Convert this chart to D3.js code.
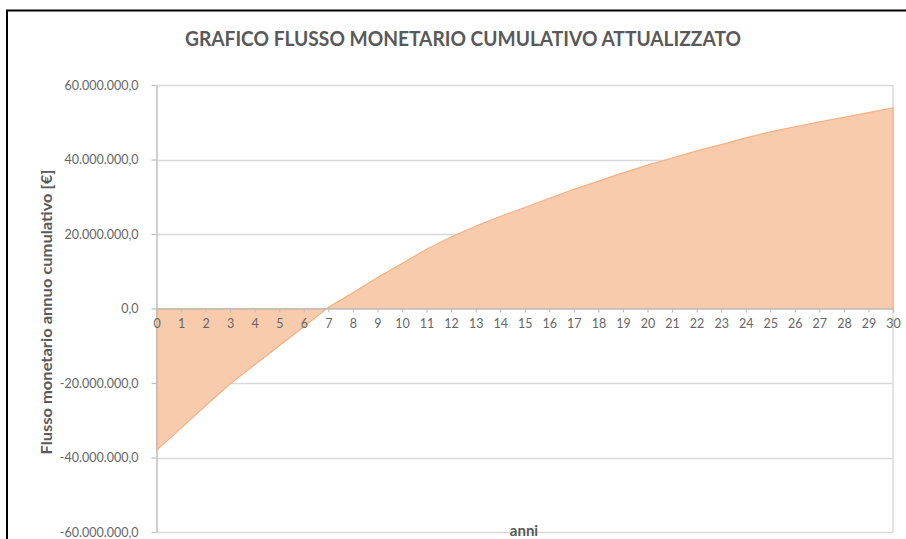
<!DOCTYPE html>
<html>
<head>
<meta charset="utf-8">
<script src="https://cdn.jsdelivr.net/npm/d3@7"></script>
<style>
    html, body { margin: 0; padding: 0; background: #fff; }
    svg { display: block; }
    text { font-family: Lato, "Open Sans", sans-serif; }
</style>
</head>
<body>
<div id="chart"></div>
<script>
// anni 0..30 e flusso cumulativo attualizzato (euro)
const anni = d3.range(0, 31);
const flussoCumulativo = [
    -38.1e6, -32.1e6, -26.1e6, -20.2e6, -15.1e6, -10.0e6, -4.9e6, 0.3e6,
    4.2e6, 8.3e6, 12.1e6, 15.9e6, 19.2e6, 22.1e6, 24.7e6, 27.1e6,
    29.6e6, 32.0e6, 34.2e6, 36.4e6, 38.5e6, 40.4e6, 42.3e6, 44.0e6,
    45.8e6, 47.4e6, 48.8e6, 50.1e6, 51.3e6, 52.6e6, 53.9e6
];
const yTicks = [-60e6, -40e6, -20e6, 0, 20e6, 40e6, 60e6];

const titolo = "GRAFICO FLUSSO MONETARIO CUMULATIVO ATTUALIZZATO";
const titoloY = "Flusso monetario annuo cumulativo [€]";
const titoloX = "anni";

const width = 906, height = 539;
const margin = {top: 85, right: 13, bottom: 7, left: 156.5};

const itLocale = d3.formatLocale({
    decimal: ",", thousands: ".", grouping: [3], currency: ["€", ""], minus: "-"
});
const fmt = itLocale.format(",.1f");

const svg = d3.select("#chart").append("svg")
    .attr("width", width)
    .attr("height", height);

// cornice esterna del grafico
svg.append("rect")
    .attr("x", 7)
    .attr("y", 10.5)
    .attr("width", width + 20)
    .attr("height", height + 20)
    .attr("fill", "none")
    .attr("stroke", "#000")
    .attr("stroke-width", 2);

const x = d3.scaleLinear()
    .domain([0, 30])
    .range([margin.left, width - margin.right]);

const y = d3.scaleLinear()
    .domain([-60e6, 60e6])
    .range([height - margin.bottom, margin.top]);

// griglia orizzontale
svg.append("g")
    .selectAll("line")
    .data(yTicks.filter(d => d !== 0))
    .enter().append("line")
    .attr("x1", x(0))
    .attr("x2", x(30))
    .attr("y1", d => Math.round(y(d)) + 0.5)
    .attr("y2", d => Math.round(y(d)) + 0.5)
    .attr("stroke", "#d9d9d9")
    .attr("stroke-width", 1.5);

// bordo destro dell'area del tracciato
svg.append("line")
    .attr("x1", x(30))
    .attr("x2", x(30))
    .attr("y1", y(60e6))
    .attr("y2", y(-60e6))
    .attr("stroke", "#d9d9d9")
    .attr("stroke-width", 1.5);

// area
const area = d3.area()
    .x((d, i) => x(anni[i]))
    .y0(y(0))
    .y1(d => y(d));

svg.append("path")
    .datum(flussoCumulativo)
    .attr("d", area)
    .attr("fill", "#f8cbad")
    .attr("stroke", "#f4b183")
    .attr("stroke-width", 1.2)
    .attr("stroke-linejoin", "round");

// asse y
const yAxis = d3.axisLeft(y)
    .tickValues(yTicks)
    .tickFormat(fmt)
    .tickSizeInner(5)
    .tickSizeOuter(0)
    .tickPadding(13);

const gy = svg.append("g")
    .attr("transform", `translate(${x(0)},0)`)
    .call(yAxis);

gy.select(".domain").attr("stroke", "#bfbfbf").attr("stroke-width", 1.5);
gy.selectAll(".tick line").attr("stroke", "#bfbfbf").attr("stroke-width", 1.2);
gy.selectAll(".tick text")
    .attr("fill", "#666")
    .style("font-size", "12.5px");

// asse x (sulla linea dello zero)
const xAxis = d3.axisBottom(x)
    .tickValues(anni)
    .tickFormat(d3.format("d"))
    .tickSizeInner(4)
    .tickSizeOuter(0)
    .tickPadding(7);

const gx = svg.append("g")
    .attr("transform", `translate(0,${y(0)})`)
    .call(xAxis);

gx.select(".domain").attr("stroke", "#bfbfbf").attr("stroke-width", 1.5);
gx.selectAll(".tick line").attr("stroke", "#bfbfbf").attr("stroke-width", 1.2);
gx.selectAll(".tick text")
    .attr("fill", "#666")
    .style("font-size", "12.5px");

// titoli
svg.append("text")
    .attr("x", 463)
    .attr("y", 46)
    .attr("text-anchor", "middle")
    .attr("fill", "#595959")
    .style("font-size", "20px")
    .style("font-weight", "bold")
    .attr("textLength", 556)
    .attr("lengthAdjust", "spacingAndGlyphs")
    .text(titolo);

svg.append("text")
    .attr("transform", "translate(52,312) rotate(-90)")
    .attr("text-anchor", "middle")
    .attr("fill", "#595959")
    .style("font-size", "16px")
    .style("font-weight", "bold")
    .attr("textLength", 285)
    .attr("lengthAdjust", "spacingAndGlyphs")
    .text(titoloY);

svg.append("text")
    .attr("x", 524)
    .attr("y", 536)
    .attr("text-anchor", "middle")
    .attr("fill", "#595959")
    .style("font-size", "15px")
    .style("font-weight", "bold")
    .text(titoloX);
</script>
</body>
</html>
